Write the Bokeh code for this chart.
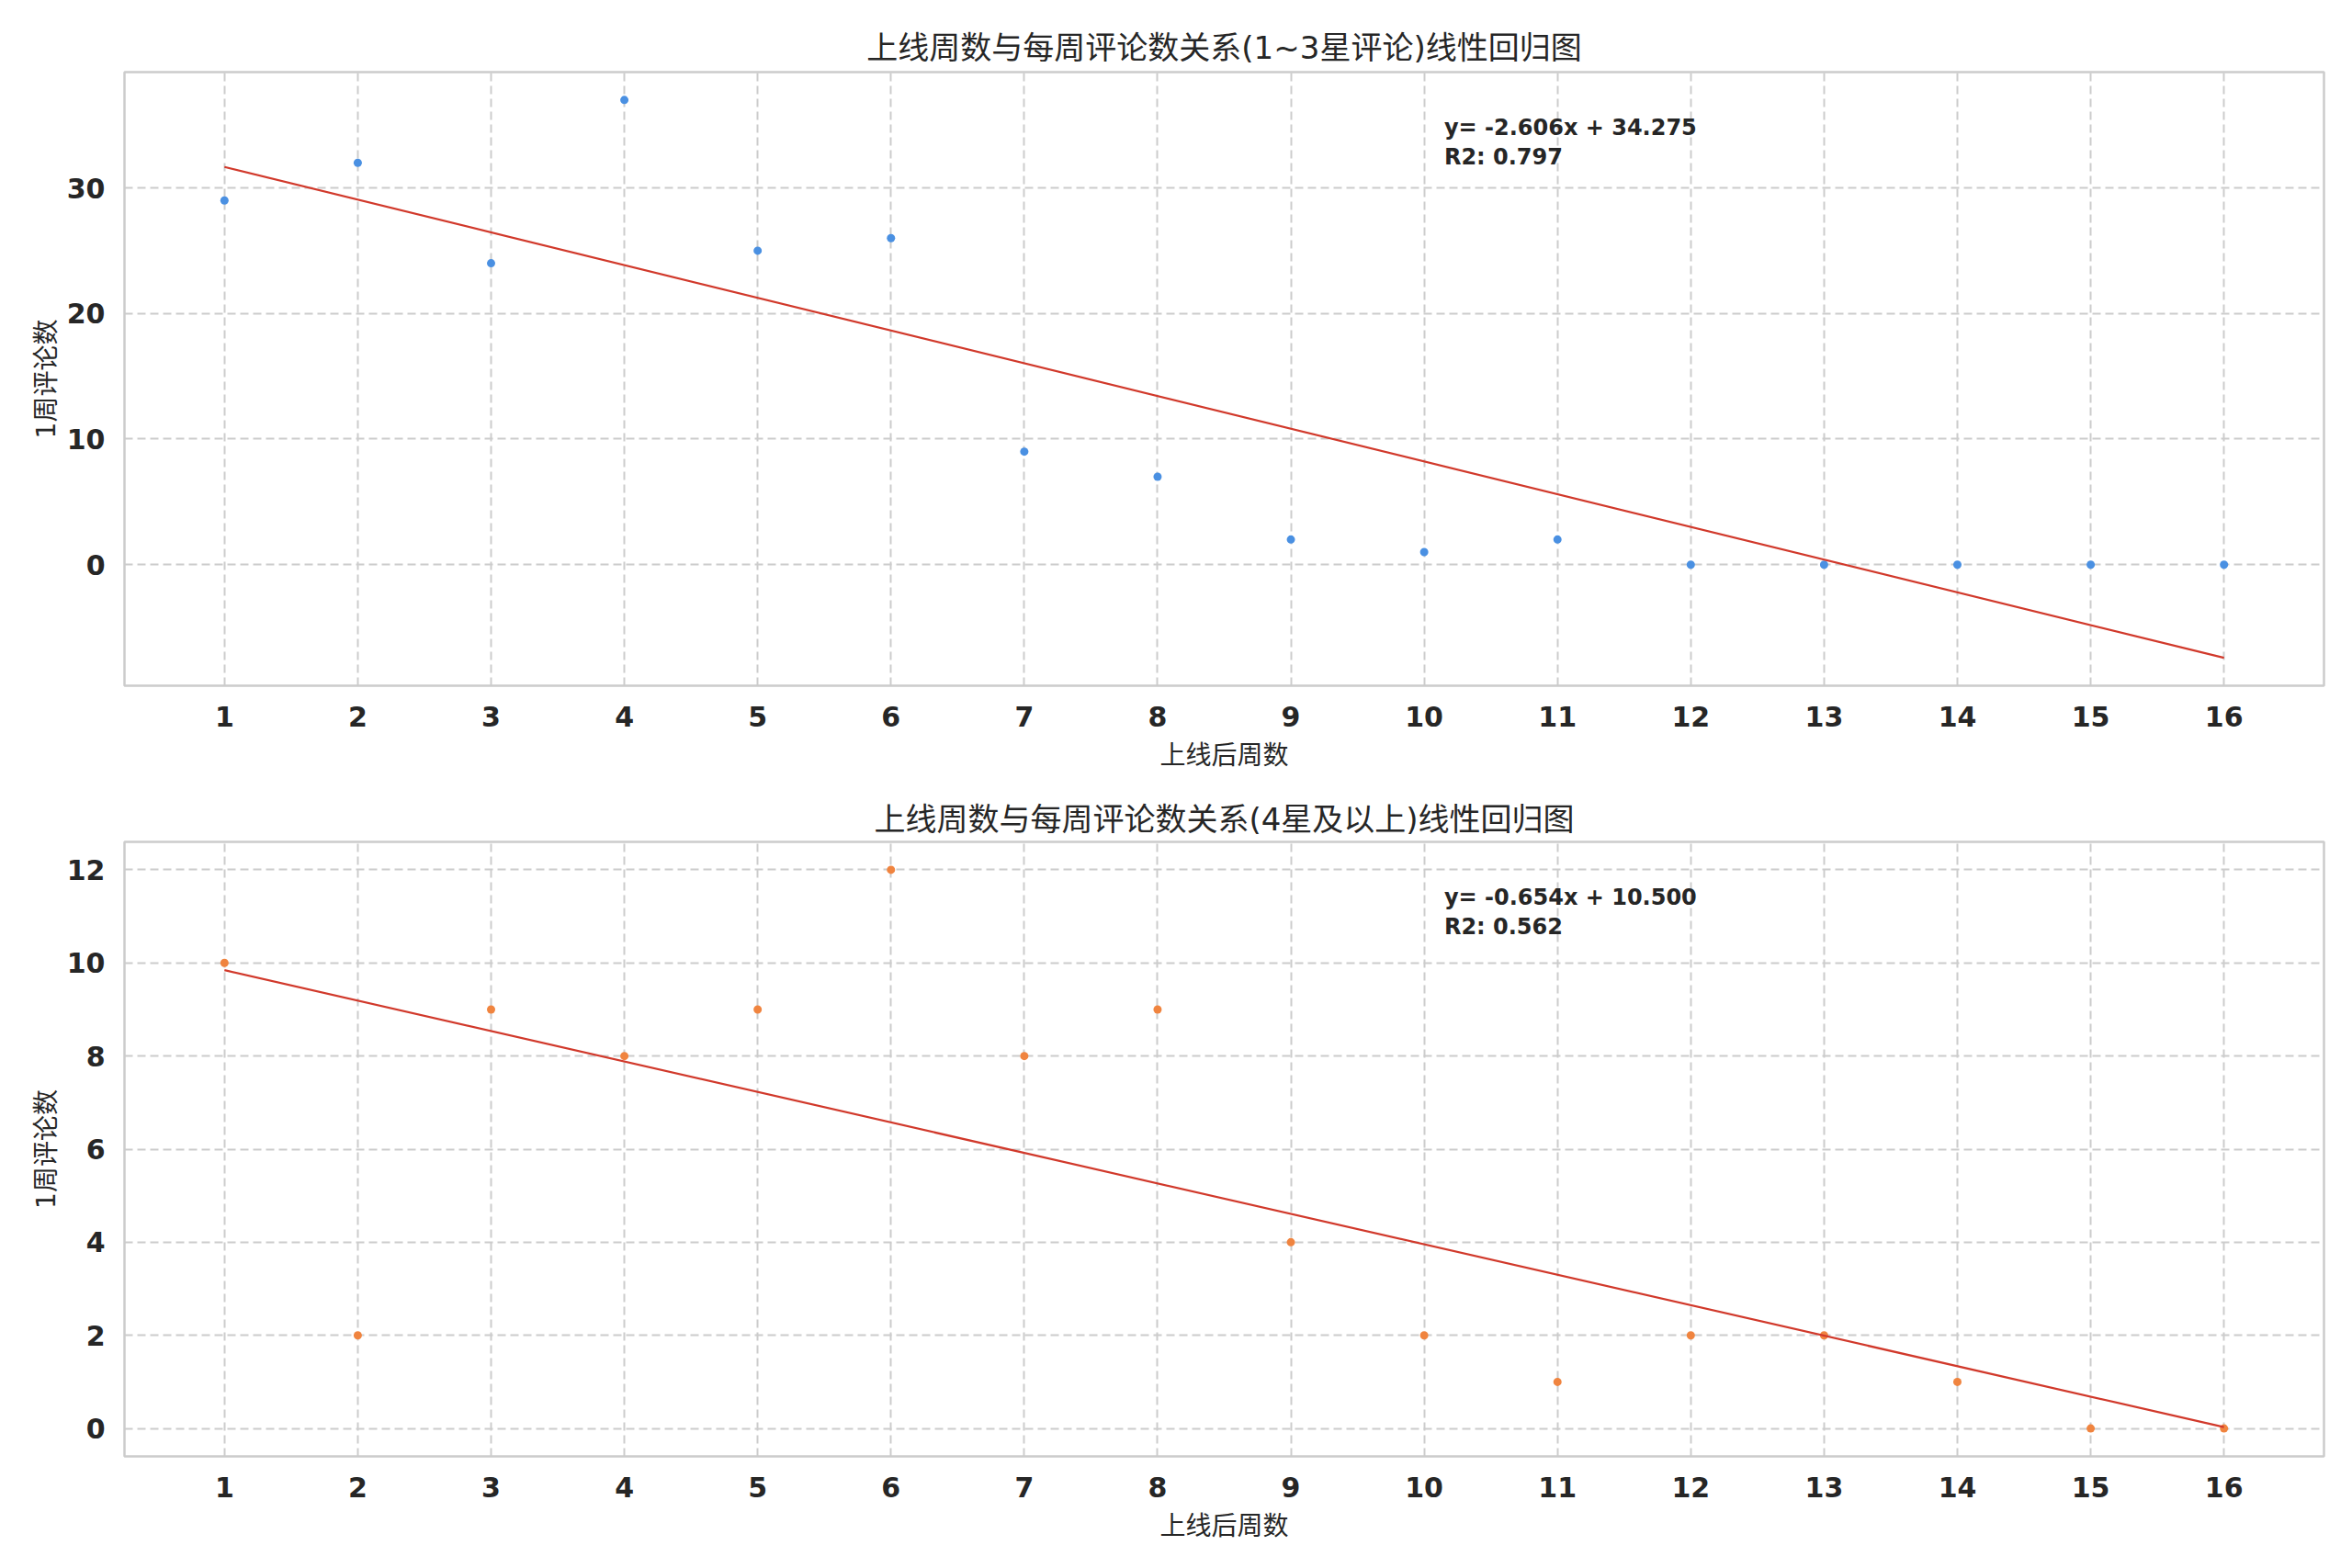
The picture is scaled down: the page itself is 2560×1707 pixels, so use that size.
import numpy as np
from bokeh.plotting import figure
from bokeh.layouts import column
from bokeh.models import FixedTicker, Label, Range1d
from bokeh.embed import file_html
from bokeh.resources import INLINE

# ---- data ----
weeks = list(range(1, 17))
low_counts = [29, 32, 24, 37, 25, 26, 9, 7, 2, 1, 2, 0, 0, 0, 0, 0]
high_counts = [10, 2, 9, 8, 9, 12, 8, 9, 4, 2, 1, 2, 2, 1, 0, 0]
x_ticks = list(range(1, 17))
y_ticks_low = [0, 10, 20, 30]
y_ticks_high = [0, 2, 4, 6, 8, 10, 12]
titles = ["上线周数与每周评论数关系(1~3星评论)线性回归图",
          "上线周数与每周评论数关系(4星及以上)线性回归图"]
x_label = "上线后周数"
y_label = "1周评论数"

# ---- style ----
FONT = "DejaVu Sans, Noto Sans CJK SC"
TXT = "#262626"
GRID = "#cccccc"
point_colors = ["#4a90e2", "#f0843f"]
line_color = "#d1392b"
W = 2544


def make(y, yticks, title, color, height, top, bottom, standoff):
    xs = np.array(weeks, dtype=float)
    ys = np.array(y, dtype=float)
    slope, intercept = np.polyfit(xs, ys, 1)
    fit = slope * xs + intercept
    r2 = 1 - np.sum((ys - fit) ** 2) / np.sum((ys - ys.mean()) ** 2)

    xlo, xhi = xs.min(), xs.max()
    xpad = 0.05 * (xhi - xlo)
    ylo = min(ys.min(), fit.min())
    yhi = max(ys.max(), fit.max())
    ypad = 0.05 * (yhi - ylo)
    xr = Range1d(xlo - xpad, xhi + xpad)
    yr = Range1d(ylo - ypad, yhi + ypad)

    p = figure(width=W, height=height, x_range=xr, y_range=yr,
               output_backend="svg", toolbar_location=None,
               min_border_left=135, min_border_right=15,
               min_border_top=top, min_border_bottom=bottom,
               background_fill_color="white", border_fill_color="white")
    p.title.text = title
    p.title.text_font = FONT
    p.title.text_font_size = "34px"
    p.title.text_font_style = "normal"
    p.title.text_color = TXT
    p.title.align = "center"
    p.title.standoff = standoff

    p.outline_line_color = GRID
    p.outline_line_width = 2.5

    for ax in (p.xaxis, p.yaxis):
        ax.axis_line_color = None
        ax.major_tick_line_color = None
        ax.minor_tick_line_color = None
        ax.major_label_text_font = "DejaVu Sans"
        ax.major_label_text_font_size = "30px"
        ax.major_label_text_font_style = "bold"
        ax.major_label_text_color = TXT
        ax.axis_label_text_font = FONT
        ax.axis_label_text_font_size = "28px"
        ax.axis_label_text_font_style = "normal"
        ax.axis_label_text_color = TXT
    p.xaxis.ticker = FixedTicker(ticks=x_ticks)
    p.yaxis.ticker = FixedTicker(ticks=yticks)
    p.xaxis.major_label_standoff = 16
    p.yaxis.major_label_standoff = 15
    p.xaxis.axis_label_standoff = 12
    p.yaxis.axis_label_standoff = 3
    p.xaxis.axis_label = x_label
    p.yaxis.axis_label = y_label

    p.xgrid.ticker = FixedTicker(ticks=x_ticks)
    p.ygrid.ticker = FixedTicker(ticks=yticks)
    for g in (p.xgrid, p.ygrid):
        g.grid_line_color = GRID
        g.grid_line_width = 2
        g.grid_line_dash = "9 5"

    p.scatter(weeks, y, size=9, fill_color=color, line_color=None)
    p.line([xlo, xhi], [slope * xlo + intercept, slope * xhi + intercept],
           line_color=line_color, line_width=2.2)

    lx = xr.start + 0.6 * (xr.end - xr.start)
    ly = yr.start + 0.93 * (yr.end - yr.start)
    for i, t in enumerate([f"y= {slope:.3f}x + {intercept:.3f}", f"R2: {r2:.3f}"]):
        p.add_layout(Label(x=lx, y=ly, y_offset=-32 * i, text=t,
                           text_font="DejaVu Sans", text_font_size="24px",
                           text_font_style="bold", text_color=TXT,
                           text_baseline="top", text_align="left"))
    return p


p1 = make(low_counts, y_ticks_low, titles[0], point_colors[0], 858, 78, 112, 13)
p2 = make(high_counts, y_ticks_high, titles[1], point_colors[1], 841, 58, 114, 10)
layout = column(p1, p2, spacing=0)

open("out.html", "w").write(file_html(layout, INLINE))
